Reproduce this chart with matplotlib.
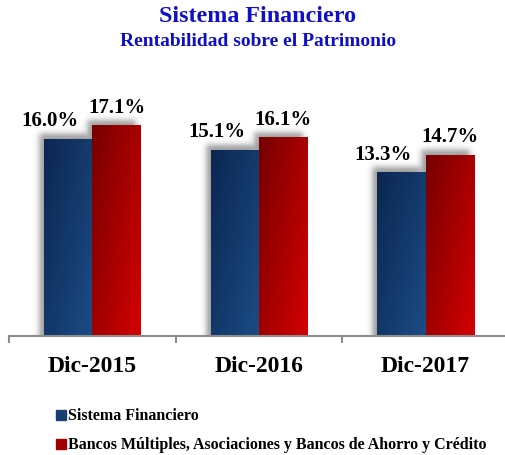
import numpy as np
import matplotlib
import matplotlib.pyplot as plt
from matplotlib.patches import Rectangle

matplotlib.rcParams['font.family'] = 'Liberation Serif'
matplotlib.rcParams['font.weight'] = 'bold'

# Rentabilidad sobre el patrimonio (%)
periods = ['Dic-2015', 'Dic-2016', 'Dic-2017']
sistema = [16.0, 15.1, 13.3]
bancos = [17.1, 16.1, 14.7]
series_names = ['Sistema Financiero',
                'Bancos Múltiples, Asociaciones y Bancos de Ahorro y Crédito']

# gradient colours: (top-left, bottom-right)
blue_grad = ('#0c2650', '#1b4c86')
red_grad = ('#760000', '#d40000')

W, H = 505, 456
fig = plt.figure(figsize=(W / 100, H / 100), dpi=100)
ax = fig.add_axes([9 / W, 1 - 337 / H, 500 / W, 277 / H])
ymax = 22.52
ax.set_xlim(-0.5, 2.5)
ax.set_ylim(0, ymax)

# data units per pixel
px_x = 3.0 / 500
px_y = ymax / 277


def hex2rgb(h):
    return np.array([int(h[i:i + 2], 16) / 255 for i in (1, 3, 5)])


def gradient_bar(x0, width, height, colors, z):
    c0, c1 = hex2rgb(colors[0]), hex2rgb(colors[1])
    ny, nx = 80, 30
    yy, xx = np.mgrid[0:1:ny * 1j, 0:1:nx * 1j]
    t = (0.55 * xx + 0.45 * yy)[..., None]
    img = c0 * (1 - t) + c1 * t
    ax.imshow(img, extent=[x0, x0 + width, 0, height], aspect='auto',
              origin='upper', zorder=z, interpolation='bilinear')


def shadow(x0, width, height, z):
    # soft grey shadow shifted up and to the left
    off, s, pad = 5, 3.5, 16
    wpx, hpx = width / px_x, height / px_y
    xs = np.arange(-pad, wpx + pad)
    ys = np.arange(0, hpx + pad)
    X, Y = np.meshgrid(xs, ys)
    ax_ = 0.5 * (np.tanh((X + off) / s) - np.tanh((X + off - wpx) / s))
    ay_ = 0.5 * (np.tanh((Y + 50) / s) - np.tanh((Y - off - hpx) / s))
    a = 0.6 * ax_ * ay_
    img = np.zeros(a.shape + (4,))
    img[..., :3] = 0.35
    img[..., 3] = a
    ax.imshow(img, extent=[x0 - pad * px_x, x0 + width + pad * px_x, 0, height + pad * px_y],
              aspect='auto', origin='lower', zorder=z, interpolation='bilinear')


bw = 0.29
x = np.arange(len(periods))
for i in range(len(periods)):
    shadow(x[i] - bw, bw, sistema[i], 1)
    shadow(x[i], bw, bancos[i], 1)
for i in range(len(periods)):
    gradient_bar(x[i] - bw, bw, sistema[i], blue_grad, 3)
    gradient_bar(x[i], bw, bancos[i], red_grad, 4)
    ax.annotate(f'{sistema[i]:.1f}%', (x[i] - bw / 2, sistema[i]), xytext=(-13, 10),
                textcoords='offset points', ha='center', va='baseline',
                fontsize=15, fontweight='bold', zorder=6)
    ax.annotate(f'{bancos[i]:.1f}%', (x[i] + bw / 2, bancos[i]), xytext=(0, 10),
                textcoords='offset points', ha='center', va='baseline',
                fontsize=15, fontweight='bold', zorder=6)

ax.set_xlim(-0.5, 2.5)
ax.set_ylim(0, ymax)

for s in ['left', 'right', 'top']:
    ax.spines[s].set_visible(False)
ax.spines['bottom'].set_color('#8c8c8c')
ax.spines['bottom'].set_linewidth(1.5)
ax.spines['bottom'].set_zorder(5)
ax.set_yticks([])
ax.set_xticks(x)
ax.set_xticklabels(periods, fontsize=17, fontweight='bold')
ax.tick_params(axis='x', which='major', length=0, pad=14)
ax.set_xticks([-0.5, 0.5, 1.5, 2.5], minor=True)
ax.tick_params(axis='x', which='minor', length=5, width=1.5, color='#8c8c8c')
ax.patch.set_alpha(0)

fig.text(258 / W, 1 - 16 / H, 'Sistema Financiero', ha='center', va='center',
         fontsize=17.3, fontweight='bold', color='#0f0fc8')
fig.text(258 / W, 1 - 42 / H, 'Rentabilidad sobre el Patrimonio', ha='center', va='center',
         fontsize=14, fontweight='bold', color='#0f0fc8')

# legend
leg_colors = ['#173f73', '#a00000']
for k, (name, col) in enumerate(zip(series_names, leg_colors)):
    yc = 416 + 29 * k
    fig.patches.append(Rectangle((56 / W, 1 - (yc + 5) / H), 10 / W, 10 / H,
                                 transform=fig.transFigure, color=col, figure=fig))
    fig.text(68 / W, 1 - yc / H, name, ha='left', va='center',
             fontsize=11.5, fontweight='bold')

fig.savefig('out.png', dpi=100)
